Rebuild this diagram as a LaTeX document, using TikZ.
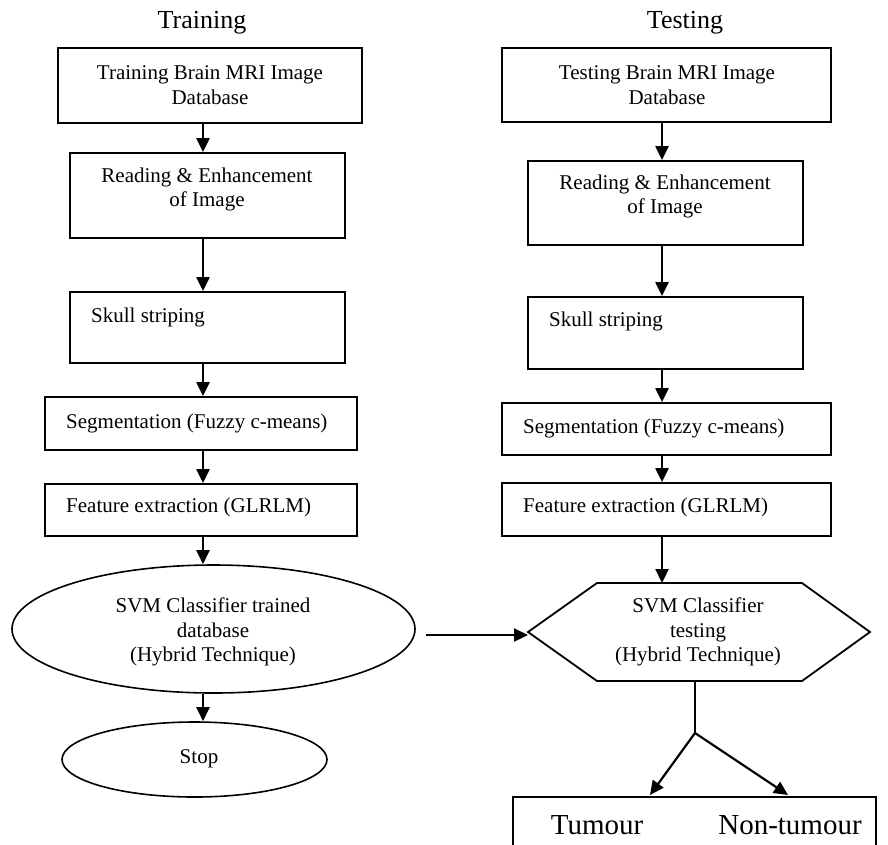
\documentclass[tikz,border=0pt]{standalone}
\usepackage{fontspec}
\setmainfont{Liberation Serif}
\usetikzlibrary{arrows.meta,calc,shapes.geometric}
\begin{document}
\begin{tikzpicture}[x=1pt,y=-1pt,
  box/.style={draw,line width=1.8pt,rectangle,inner sep=0pt},
  oval/.style={draw,line width=1.6pt,ellipse,inner sep=0pt},
  txt/.style={inner sep=0pt,align=center,font=\fontsize{21}{24.5}\selectfont},
  ltxt/.style={inner sep=0pt,anchor=west,font=\fontsize{21}{24.5}\selectfont},
  ttl/.style={inner sep=0pt,font=\fontsize{26}{30}\selectfont},
  big/.style={inner sep=0pt,font=\fontsize{29}{33}\selectfont},
  arr/.style={line width=2.2pt,-{Triangle[length=14pt,width=13pt]}},
  ln/.style={line width=1.8pt}]
\useasboundingbox (0,0) rectangle (888,844);
\clip (0,0) rectangle (888,844);
% titles
\node[ttl] (tTrain) at (202,23) {Training};
\node[ttl] (tTest) at (685,23) {Testing};
% left column
\node[box,minimum width=304pt,minimum height=75pt] (L1) at (210,85.5) {};
\node[txt] (L1t) at (210,85) {Training Brain MRI Image\\Database};
\node[box,minimum width=275pt,minimum height=85pt] (L2) at (207.5,195.5) {};
\node[txt] (L2t) at (207,189.5) {Reading \& Enhancement\\of Image};
\node[box,minimum width=275pt,minimum height=71pt] (L3) at (207.5,327.5) {};
\node[ltxt] (L3t) at (91,317) {Skull striping};
\node[box,minimum width=312pt,minimum height=53pt] (L4) at (201,423.5) {};
\node[ltxt] (L4t) at (66,423) {Segmentation (Fuzzy c-means)};
\node[box,minimum width=312pt,minimum height=52pt] (L5) at (201,510) {};
\node[ltxt] (L5t) at (66,507) {Feature extraction (GLRLM)};
\node[oval,minimum width=403pt,minimum height=128pt] (E) at (213.5,629) {};
\node[txt] (Et) at (213,632) {SVM Classifier trained\\database\\(Hybrid Technique)};
\node[oval,minimum width=265pt,minimum height=75pt] (S) at (194.5,759.5) {};
\node[txt] (St) at (199,759) {Stop};
% right column
\node[box,minimum width=329pt,minimum height=74pt] (R1) at (666.5,85) {};
\node[txt] (R1t) at (667,85) {Testing Brain MRI Image\\Database};
\node[box,minimum width=275pt,minimum height=84pt] (R2) at (665.5,203) {};
\node[txt] (R2t) at (665,196.5) {Reading \& Enhancement\\of Image};
\node[box,minimum width=275pt,minimum height=72pt] (R3) at (665.5,333) {};
\node[ltxt] (R3t) at (549,321) {Skull striping};
\node[box,minimum width=329pt,minimum height=52pt] (R4) at (666.5,429) {};
\node[ltxt] (R4t) at (523,428) {Segmentation (Fuzzy c-means)};
\node[box,minimum width=329pt,minimum height=53pt] (R5) at (666.5,509.5) {};
\node[ltxt] (R5t) at (523,507) {Feature extraction (GLRLM)};
% hexagon
\coordinate (HW) at (528,632);
\coordinate (HNW) at (597,583);
\coordinate (HNE) at (802,583);
\coordinate (HE) at (870,632);
\coordinate (HSE) at (802,681);
\coordinate (HSW) at (597,681);
\draw[ln,line join=miter] (HW) -- (HNW) -- (HNE) -- (HE) -- (HSE) -- (HSW) -- cycle;
\node[txt] (Ht) at (698,632) {SVM Classifier\\testing\\(Hybrid Technique)};
% result box
\node[box,minimum width=363pt,minimum height=80pt] (T) at (694.5,837) {};
\node[big] (Tt) at (597,825) {Tumour};
\node[big] (Nt) at (790,825) {Non-tumour};
% arrow x positions
\coordinate (axL) at (203,0);
\coordinate (axR) at (662,0);
\coordinate (hb) at (695,681);
\coordinate (br) at (695,733);
\coordinate (tL) at (650,795);
\coordinate (tR) at (788,795);
\coordinate (cs) at (426,635);
\coordinate (ce) at (528,635);
% left arrows
\draw[arr] (L1.south -| axL) -- (L2.north -| axL);
\draw[arr] (L2.south -| axL) -- (L3.north -| axL);
\draw[arr] (L3.south -| axL) -- (L4.north -| axL);
\draw[arr] (L4.south -| axL) -- (L5.north -| axL);
\draw[arr] (L5.south -| axL) -- (E.north -| axL);
\draw[arr] (E.south -| axL) -- (S.north -| axL);
% right arrows
\draw[arr] (R1.south -| axR) -- (R2.north -| axR);
\draw[arr] (R2.south -| axR) -- (R3.north -| axR);
\draw[arr] (R3.south -| axR) -- (R4.north -| axR);
\draw[arr] (R4.south -| axR) -- (R5.north -| axR);
\draw[arr] (R5.south -| axR) -- (HNW -| axR);
% cross arrow
\draw[arr] (cs) -- (ce);
% branch
\draw[ln] (hb) -- (br);
\draw[arr] (br) -- (tL);
\draw[arr] (br) -- (tR);
\end{tikzpicture}
\end{document}
